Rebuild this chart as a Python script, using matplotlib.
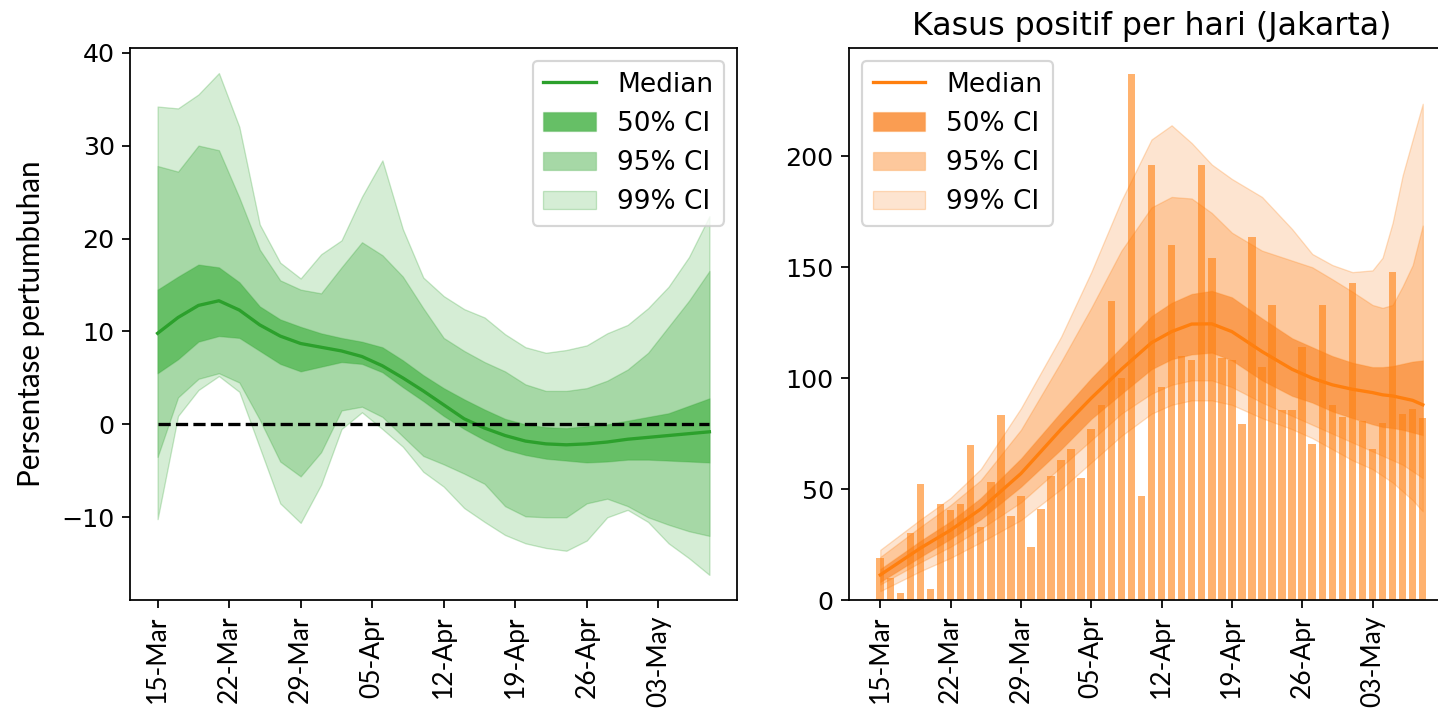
import matplotlib
matplotlib.use("Agg")
import matplotlib.pyplot as plt
import matplotlib.dates as mdates
import numpy as np
import pandas as pd

plt.rcParams["font.size"] = 12

start = pd.Timestamp("2020-03-15")

# --- kiri: persentase pertumbuhan (dibaca tiap 2 hari) ---
growth_days = [0, 2, 4, 6, 8, 10, 12, 14, 16, 18, 20, 22, 24, 26,
               28, 30, 32, 34, 36, 38, 40, 42, 44, 46, 48, 50, 52, 54]
growth_median = [9.8, 11.5, 12.8, 13.3, 12.3, 10.7, 9.5, 8.7, 8.3, 7.9, 7.3, 6.3, 5.0, 3.6,
                 2.1, 0.6, -0.4, -1.2, -1.8, -2.1, -2.2, -2.1, -1.9, -1.6, -1.4, -1.2, -1.0, -0.8]
growth_50_hi = [14.5, 15.9, 17.2, 16.9, 15.3, 12.7, 11.3, 10.5, 9.8, 9.3, 8.9, 8.3, 6.9, 5.3,
                3.9, 2.7, 1.6, 0.6, 0.0, -0.3, -0.4, -0.2, 0.0, 0.4, 0.8, 1.2, 2.0, 2.8]
growth_50_lo = [5.5, 7.0, 8.9, 9.5, 9.3, 7.9, 6.5, 5.7, 6.2, 6.7, 6.5, 5.6, 4.0, 2.5,
                0.9, -0.5, -1.7, -2.7, -3.3, -3.7, -3.9, -4.1, -4.0, -3.8, -3.8, -3.9, -4.0, -4.1]
growth_95_hi = [27.8, 27.2, 30.0, 29.5, 24.4, 18.8, 15.5, 14.5, 14.1, 16.9, 19.6, 18.2, 15.9, 12.5,
                9.3, 7.9, 6.7, 5.7, 4.3, 3.6, 3.6, 3.9, 4.7, 5.9, 7.7, 10.5, 13.3, 16.5]
growth_95_lo = [-3.5, 2.9, 4.9, 5.5, 4.5, 0.5, -4.0, -5.6, -3.0, 1.5, 1.9, 0.8, -1.3, -3.4,
                -4.3, -5.3, -6.4, -8.8, -9.9, -10.0, -10.0, -8.5, -8.0, -8.8, -10.0, -10.8, -11.5, -12.0]
growth_99_hi = [34.2, 34.0, 35.5, 37.8, 32.0, 21.5, 17.4, 15.7, 18.3, 19.8, 24.5, 28.4, 21.0, 15.8,
                13.8, 12.4, 11.5, 9.7, 8.3, 7.7, 8.0, 8.5, 9.8, 10.7, 12.5, 14.8, 18.0, 22.4]
growth_99_lo = [-10.2, 0.9, 3.7, 5.2, 3.5, -2.5, -8.5, -10.6, -6.5, -0.5, 1.3, -0.5, -2.4, -5.1,
                -6.7, -9.0, -10.5, -11.9, -12.8, -13.3, -13.6, -12.5, -10.0, -9.2, -10.5, -12.8, -14.4, -16.2]

# --- kanan: kasus positif per hari ---
case_days = list(range(55))
cases = [19, 10, 3, 30, 52.5, 5, 43.5, 40.5, 43.5, 70, 33, 53, 83.5, 38, 47, 24, 41, 56, 63, 68,
         55, 77, 88, 135, 100, 237, 47, 196, 96, 160, 110, 108, 196, 154, 109, 108, 79.5, 163.5, 105, 133,
         85.5, 85.5, 114, 70.5, 133, 88, 82.5, 143, 80.5, 68, 80, 148, 84, 86, 82]

model_days = [0, 4, 7, 10, 14, 18, 21, 24, 27, 29, 31, 33, 35, 38, 41, 43, 45, 47, 49, 50, 51, 52, 53, 54]
model_median = [11.3, 23.4, 31.5, 41, 57, 77, 91, 104, 116, 121, 124.4, 124.5, 121, 112, 104, 100,
                97, 95, 93.5, 92.5, 92, 91, 90, 88]
model_50_hi = [14, 26.7, 35.5, 46, 63.8, 84.8, 100, 114, 128, 134, 138, 139.4, 136.5, 127, 118, 114,
               110, 107, 105, 105, 105.5, 106.5, 107.5, 108]
model_50_lo = [8.1, 19.4, 27.5, 36.3, 51, 67.9, 81.6, 92.9, 104, 108.5, 110.7, 111.5, 108, 99, 92, 89,
               85, 82, 79.2, 78, 77.5, 76.7, 75.5, 74.3]
model_95_hi = [19.4, 33, 42.8, 54, 76.7, 107.4, 131.7, 157.5, 177, 181.7, 181, 174.5, 165.6, 157.5, 153, 150,
               144.6, 139, 133, 131.7, 133, 141.4, 151, 168.8]
model_95_lo = [7, 17, 24, 32, 44, 60, 72, 84, 93, 97, 99, 99, 96, 89, 83, 79,
               75, 71, 67, 65, 63, 61, 58, 55]
model_99_hi = [22.6, 36.3, 46, 59, 86.4, 118.7, 147.8, 180, 207.6, 214, 206, 196.3, 189.8, 181.7, 167.2, 156,
               151, 147.8, 148.6, 154.3, 170, 191.4, 207.6, 223.7]
model_99_lo = [4, 13, 19, 26, 36, 50, 62, 74, 84, 88, 90, 90, 88, 82, 77, 73,
               68, 63, 59, 56, 53, 49, 45, 40]

tick_days = [0, 7, 14, 21, 28, 35, 42, 49]

green = "#2ca02c"
green_bands = {"50% CI": "#66bf66", "95% CI": "#a6d8a6", "99% CI": "#d5edd5"}
orange = "#ff7f0e"
orange_bands = {"50% CI": "#fa9d52", "95% CI": "#fdc89c", "99% CI": "#fde4d0"}

to_dates = lambda days: [start + pd.Timedelta(days=d) for d in days]

fig = plt.figure(figsize=(1438 / 158, 715 / 158), dpi=158)
ax1 = fig.add_axes([130 / 1438, 115 / 715, 607 / 1438, 552 / 715])
ax2 = fig.add_axes([849 / 1438, 115 / 715, 605 / 1438, 552 / 715])


def draw_bands(ax, days, bands, colors, edge):
    x = to_dates(days)
    handles = {}
    for key in ["99% CI", "95% CI", "50% CI"]:
        lo, hi = bands[key]
        handles[key] = ax.fill_between(x, lo, hi, facecolor=colors[key], edgecolor=edge,
                                       linewidth=0.6, label=key, zorder=1)
    return handles


# panel kiri
h1 = draw_bands(ax1, growth_days,
                {"50% CI": (growth_50_lo, growth_50_hi),
                 "95% CI": (growth_95_lo, growth_95_hi),
                 "99% CI": (growth_99_lo, growth_99_hi)},
                green_bands, (0.17, 0.63, 0.17, 0.25))
med1, = ax1.plot(to_dates(growth_days), growth_median, color=green, lw=1.5, label="Median", zorder=3)
ax1.plot(to_dates(growth_days), np.zeros(len(growth_days)), "k--", lw=1.5, zorder=4)
ax1.legend([med1, h1["50% CI"], h1["95% CI"], h1["99% CI"]],
           ["Median", "50% CI", "95% CI", "99% CI"], loc="upper right")
ax1.set_ylabel("Persentase pertumbuhan", family="Lato", fontsize=13.5)
ax1.yaxis.set_label_coords(-0.14, 0.5)

# panel kanan
h2 = draw_bands(ax2, model_days,
                {"50% CI": (model_50_lo, model_50_hi),
                 "95% CI": (model_95_lo, model_95_hi),
                 "99% CI": (model_99_lo, model_99_hi)},
                orange_bands, (1.0, 0.5, 0.05, 0.25))
ax2.bar(to_dates(case_days), cases, width=0.75, color=orange, alpha=0.6, zorder=2)
med2, = ax2.plot(to_dates(model_days), model_median, color=orange, lw=1.5, label="Median", zorder=3)
ax2.legend([med2, h2["50% CI"], h2["95% CI"], h2["99% CI"]],
           ["Median", "50% CI", "95% CI", "99% CI"], loc="upper left")
ax2.set_title("Kasus positif per hari (Jakarta)")
ax2.set_yticks([0, 50, 100, 150, 200])

for ax in (ax1, ax2):
    ax.set_xticks(to_dates(tick_days))
    ax.xaxis.set_major_formatter(mdates.DateFormatter("%d-%b"))
    ax.tick_params(axis="y", labelsize=11.5)
    for lab in ax.get_xticklabels():
        lab.set_rotation(90)
        lab.set_family("Lato")
        lab.set_fontsize(12)

fig.savefig("out.png", dpi=158)
